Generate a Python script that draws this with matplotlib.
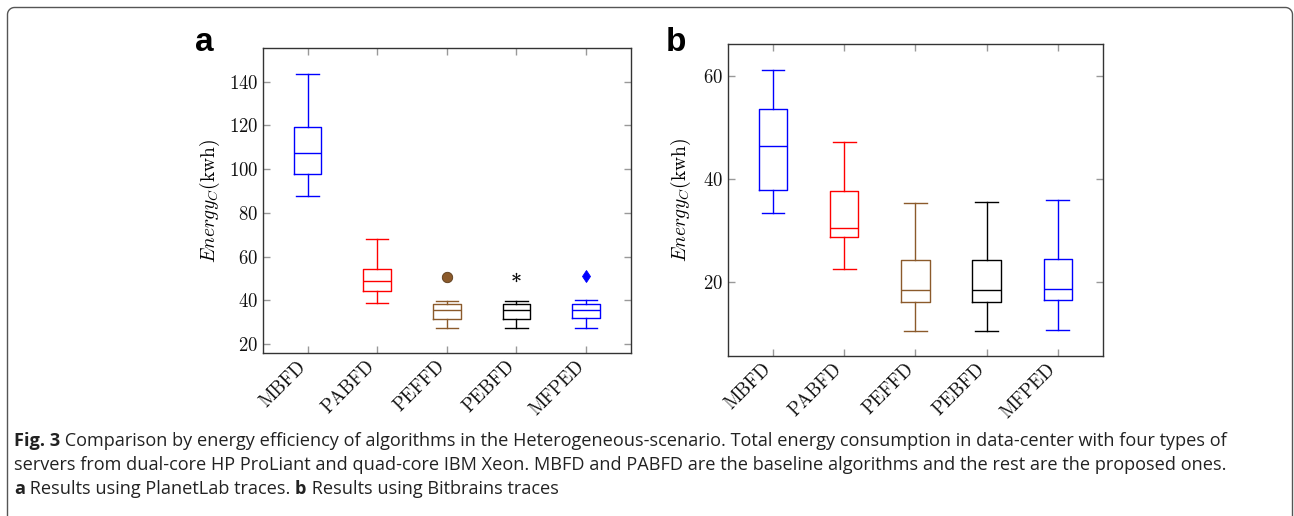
import numpy as np
import matplotlib
matplotlib.use("Agg")
import matplotlib.pyplot as plt
from matplotlib.lines import Line2D

plt.rcParams['mathtext.fontset'] = 'cm'
plt.rcParams['font.family'] = ['cmr10', 'DejaVu Serif']
plt.rcParams['axes.formatter.use_mathtext'] = True

# ── data ─────────────────────────────────────────────────────────────
algorithms = ["MBFD", "PABFD", "PEFFD", "PEBFD", "MFPED"]
colors = ["#0000FF", "#FF0000", "#8B5A2B", "#000000", "#0000FF"]
flier_markers = [None, None, "o", "$*$", "d"]

# panel a : PlanetLab traces
a_whislo = [87.5, 38.6, 27.2, 27.2, 27.3]
a_q1     = [97.9, 44.2, 31.6, 31.6, 31.7]
a_med    = [107.5, 48.7, 35.4, 35.5, 35.5]
a_q3     = [119.3, 54.2, 38.4, 38.4, 38.4]
a_whishi = [143.7, 68.0, 39.8, 39.7, 40.0]
a_fliers = [[], [], [50.8], [50.6], [51.3]]

# panel b : Bitbrains traces
b_whislo = [33.3, 22.5, 10.5, 10.5, 10.7]
b_q1     = [37.8, 28.6, 16.0, 16.0, 16.5]
b_med    = [46.3, 30.4, 18.3, 18.3, 18.6]
b_q3     = [53.5, 37.6, 24.2, 24.3, 24.4]
b_whishi = [61.1, 47.2, 35.2, 35.4, 35.9]
b_fliers = [[], [], [], [], []]

a_yticks = [20, 40, 60, 80, 100, 120, 140]
b_yticks = [20, 40, 60]

W, H = 1294, 516
fig = plt.figure(figsize=(W / 100, H / 100), dpi=100)
fig.patch.set_facecolor("white")


def make_stats(lo, q1, med, q3, hi, fl):
    return [dict(whislo=lo[i], q1=q1[i], med=med[i], q3=q3[i], whishi=hi[i],
                 fliers=fl[i], label=algorithms[i]) for i in range(len(lo))]


def draw_panel(rect, stats, ylim, yticks, letter, letter_x, labelpad):
    ax = fig.add_axes(rect)
    pos = np.arange(1, len(stats) + 1)
    bp = ax.bxp(stats, positions=pos, widths=0.4, capwidths=0.32,
                showfliers=True, patch_artist=False)
    for i, c in enumerate(colors):
        for art in (bp['boxes'][i], bp['medians'][i]):
            art.set_color(c)
            art.set_linewidth(1.0)
        for art in bp['whiskers'][2 * i:2 * i + 2] + bp['caps'][2 * i:2 * i + 2]:
            art.set_color(c)
            art.set_linewidth(1.0)
        fl = bp['fliers'][i]
        m = flier_markers[i]
        if m is not None:
            fl.set_marker(m)
            fl.set_markerfacecolor(c)
            fl.set_markeredgecolor("#5A3A1A" if m == "o" else c)
            fl.set_markersize({"o": 7.5, "$*$": 6.5, "d": 6}[m])
            fl.set_markeredgewidth(0.6 if m != "$*$" else 0.2)
    ax.set_xlim(0.36, 5.64)
    ax.set_ylim(*ylim)
    ax.set_yticks(yticks)
    ax.set_xticks(pos)
    ax.set_xticklabels([])
    # rotated category labels, ending just left of each tick
    for p, name in zip(pos, algorithms):
        ax.annotate(name, xy=(p, 0), xycoords=("data", "axes fraction"),
                    xytext=(-8, -3), textcoords="offset points",
                    rotation=45, rotation_mode="anchor", ha="right", va="top",
                    fontsize=13.5, color="#111111", annotation_clip=False)
    ax.tick_params(axis="both", direction="in", top=True, right=True,
                   length=5, width=1, color="#999999", labelsize=13.5,
                   labelcolor="#111111")
    for sp in ax.spines.values():
        sp.set_color("#333333")
        sp.set_linewidth(1.0)
    ax.set_ylabel(r"$Energy_C$(kwh)", fontsize=14, labelpad=labelpad)
    fig.text(letter_x / W, 1 - 27 / H, letter, fontsize=24,
             fontweight="bold", family="Liberation Sans", ha="left", va="top")
    return ax


draw_panel([263 / W, 162.7 / H, 367.7 / W, 305 / H],
           make_stats(a_whislo, a_q1, a_med, a_q3, a_whishi, a_fliers),
           (15.7, 155.3), a_yticks, "a", 195, 5)
draw_panel([727.5 / W, 160 / H, 375.8 / W, 312 / H],
           make_stats(b_whislo, b_q1, b_med, b_q3, b_whishi, b_fliers),
           (5.55, 66.2), b_yticks, "b", 666, 7)

# ── outer frame with rounded top corners ────────────────────────────
r = 7
t = np.linspace(0, np.pi / 2, 12)
xl, xr, yt = 7.5, 1292.5, 7.5
px = np.concatenate([[xl], xl + r - r * np.cos(t), xr - r + r * np.sin(t), [xr]])
py = np.concatenate([[H + 5], yt + r - r * np.sin(t), yt + r - r * np.cos(t), [H + 5]])
fig.add_artist(Line2D(px / W, 1 - py / H, transform=fig.transFigure,
                      color="#555555", lw=1.0))

# ── caption ─────────────────────────────────────────────────────────
cap_font = "Open Sans"
cap_line1 = ("Fig. 3", " Comparison by energy efficiency of algorithms in the Heterogeneous-scenario. "
                       "Total energy consumption in data-center with four types of")
cap_line2 = ("servers from dual-core HP ProLiant and quad-core IBM Xeon. MBFD and PABFD are "
             "the baseline algorithms and the rest are the proposed ones.")
fig.canvas.draw()
renderer = fig.canvas.get_renderer()

# pick a size so that the first line spans the same width as the original
probe = fig.text(0, 0, cap_line1[0] + cap_line1[1], family=cap_font, fontsize=12)
cap_size = 0.99 * 12 * (1232 - 14) / probe.get_window_extent(renderer).width
probe.remove()

x0 = 14 / W
ys = [441, 465, 489]


def put(x, y, s, bold):
    tx = fig.text(x, 1 - y / H, s, family=cap_font, fontsize=cap_size,
                  fontweight="bold" if bold else "normal", ha="left",
                  va="center", color="#222222")
    bb = tx.get_window_extent(renderer)
    return x + bb.width / W


x = put(x0, ys[0], cap_line1[0], True)
put(x, ys[0], cap_line1[1], False)
put(x0, ys[1], cap_line2, False)
x = put(x0, ys[2], "a", True)
x = put(x, ys[2], " Results using PlanetLab traces. ", False)
x = put(x, ys[2], "b", True)
put(x, ys[2], " Results using Bitbrains traces", False)

fig.savefig("out.png", dpi=100, facecolor="white")
